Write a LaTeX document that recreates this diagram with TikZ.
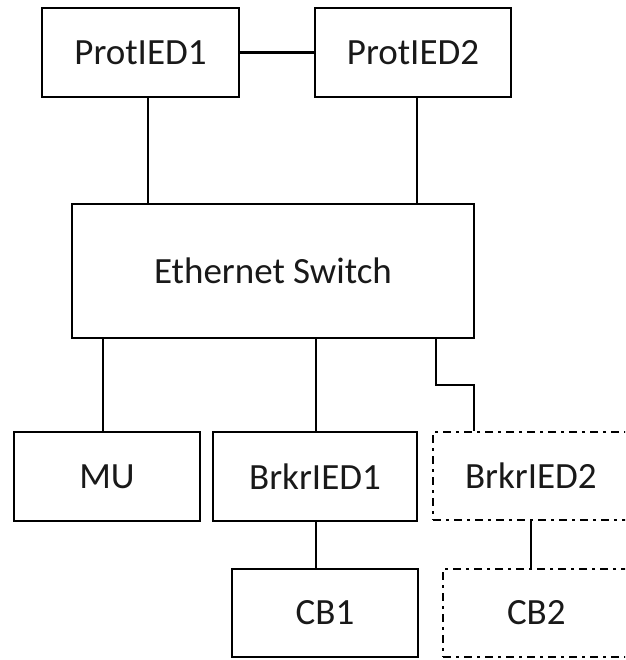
\documentclass[tikz,border=0pt]{standalone}
\usepackage{fontspec}
\setmainfont{Carlito}
\begin{document}
\begin{tikzpicture}[x=1pt,y=-1pt,
  box/.style={draw=black,line width=2.9pt,rectangle,inner sep=0pt,
    font=\fontsize{37}{40}\selectfont,text=black!90},
  planned/.style={box,line width=2.6pt,dash pattern=on 8pt off 5pt on 3pt off 5pt},
  link/.style={draw=black,line width=2.9pt}]
\clip (0,0) rectangle (625,660);

% protection IEDs
\node[box,minimum width=197pt,minimum height=89pt] (p1) at (140.5,52.5) {ProtIED1};
\node[box,minimum width=196pt,minimum height=89pt] (p2) at (413,52.5) {ProtIED2};

% process bus switch
\node[box,minimum width=402pt,minimum height=134pt] (sw) at (273,271) {Ethernet Switch};

% bay level devices
\node[box,minimum width=186pt,minimum height=89pt] (mu) at (107,476.5) {MU};
\node[box,minimum width=204pt,minimum height=89pt] (b1) at (315,476.5) {BrkrIED1};
\node[planned,minimum width=196pt,minimum height=88pt,text width=170pt,align=left] (b2) at (531,476) {\hspace{19pt}BrkrIED2};

% breakers
\node[box,minimum width=186pt,minimum height=88pt] (cb1) at (325,613) {CB1};
\node[planned,minimum width=196pt,minimum height=88pt,text width=170pt,align=left] (cb2) at (541,613) {\hspace{51pt}CB2};

% drop positions
\coordinate (xp1) at (148,0);
\coordinate (xp2) at (417,0);
\coordinate (xmu) at (103,0);
\coordinate (xb1) at (316,0);
\coordinate (xb2a) at (436,0);
\coordinate (xb2b) at (474,0);
\coordinate (bend) at (0,385);
\coordinate (xcb2) at (531,0);

\draw[link] (p1) -- (p2);
\draw[link] (p1.south -| xp1) -- (sw.north -| xp1);
\draw[link] (p2.south -| xp2) -- (sw.north -| xp2);
\draw[link] (sw.south -| xmu) -- (mu.north -| xmu);
\draw[link] (sw.south -| xb1) -- (b1.north -| xb1);
\draw[link] (sw.south -| xb2a) -- (bend -| xb2a) -- (bend -| xb2b) -- (b2.north -| xb2b);
\draw[link] (b1.south -| xb1) -- (cb1.north -| xb1);
\draw[link] (b2.south -| xcb2) -- (cb2.north -| xcb2);
\end{tikzpicture}
\end{document}
